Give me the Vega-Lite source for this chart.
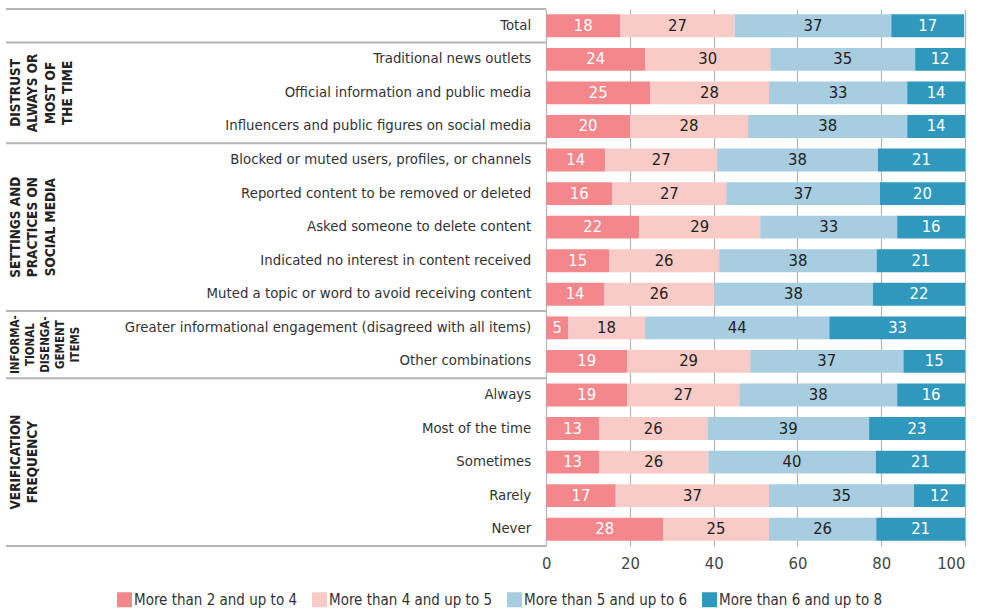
{
  "$schema": "https://vega.github.io/schema/vega-lite/v6.json",
  "width": 959,
  "height": 537,
  "autosize": {"type": "none"},
  "padding": {"left": 6, "top": 9, "right": 18, "bottom": 64},
  "background": "white",
  "config": {
    "view": {"stroke": null},
    "font": "DejaVu Sans Condensed",
    "text": {"font": "DejaVu Sans Condensed"}
  },
  "datasets": {
    "bars": [
      {"label": "Total", "cat": "More than 2 and up to 4", "value": 17.7},
      {"label": "Total", "cat": "More than 4 and up to 5", "value": 27.3},
      {"label": "Total", "cat": "More than 5 and up to 6", "value": 37.4},
      {"label": "Total", "cat": "More than 6 and up to 8", "value": 17.4},
      {"label": "Traditional news outlets", "cat": "More than 2 and up to 4", "value": 23.6},
      {"label": "Traditional news outlets", "cat": "More than 4 and up to 5", "value": 29.9},
      {"label": "Traditional news outlets", "cat": "More than 5 and up to 6", "value": 34.6},
      {"label": "Traditional news outlets", "cat": "More than 6 and up to 8", "value": 11.9},
      {"label": "Official information and public media", "cat": "More than 2 and up to 4", "value": 24.8},
      {"label": "Official information and public media", "cat": "More than 4 and up to 5", "value": 28.4},
      {"label": "Official information and public media", "cat": "More than 5 and up to 6", "value": 33.0},
      {"label": "Official information and public media", "cat": "More than 6 and up to 8", "value": 13.8},
      {"label": "Influencers and public figures on social media", "cat": "More than 2 and up to 4", "value": 20.0},
      {"label": "Influencers and public figures on social media", "cat": "More than 4 and up to 5", "value": 28.2},
      {"label": "Influencers and public figures on social media", "cat": "More than 5 and up to 6", "value": 38.0},
      {"label": "Influencers and public figures on social media", "cat": "More than 6 and up to 8", "value": 13.8},
      {"label": "Blocked or muted users, profiles, or channels", "cat": "More than 2 and up to 4", "value": 14.1},
      {"label": "Blocked or muted users, profiles, or channels", "cat": "More than 4 and up to 5", "value": 26.7},
      {"label": "Blocked or muted users, profiles, or channels", "cat": "More than 5 and up to 6", "value": 38.4},
      {"label": "Blocked or muted users, profiles, or channels", "cat": "More than 6 and up to 8", "value": 20.8},
      {"label": "Reported content to be removed or deleted", "cat": "More than 2 and up to 4", "value": 15.8},
      {"label": "Reported content to be removed or deleted", "cat": "More than 4 and up to 5", "value": 27.2},
      {"label": "Reported content to be removed or deleted", "cat": "More than 5 and up to 6", "value": 36.7},
      {"label": "Reported content to be removed or deleted", "cat": "More than 6 and up to 8", "value": 20.3},
      {"label": "Asked someone to delete content", "cat": "More than 2 and up to 4", "value": 22.2},
      {"label": "Asked someone to delete content", "cat": "More than 4 and up to 5", "value": 28.9},
      {"label": "Asked someone to delete content", "cat": "More than 5 and up to 6", "value": 32.7},
      {"label": "Asked someone to delete content", "cat": "More than 6 and up to 8", "value": 16.2},
      {"label": "Indicated no interest in content received", "cat": "More than 2 and up to 4", "value": 15.0},
      {"label": "Indicated no interest in content received", "cat": "More than 4 and up to 5", "value": 26.3},
      {"label": "Indicated no interest in content received", "cat": "More than 5 and up to 6", "value": 37.6},
      {"label": "Indicated no interest in content received", "cat": "More than 6 and up to 8", "value": 21.1},
      {"label": "Muted a topic or word to avoid receiving content", "cat": "More than 2 and up to 4", "value": 13.8},
      {"label": "Muted a topic or word to avoid receiving content", "cat": "More than 4 and up to 5", "value": 26.3},
      {"label": "Muted a topic or word to avoid receiving content", "cat": "More than 5 and up to 6", "value": 37.9},
      {"label": "Muted a topic or word to avoid receiving content", "cat": "More than 6 and up to 8", "value": 22.0},
      {"label": "Greater informational engagement (disagreed with all items)", "cat": "More than 2 and up to 4", "value": 5.2},
      {"label": "Greater informational engagement (disagreed with all items)", "cat": "More than 4 and up to 5", "value": 18.4},
      {"label": "Greater informational engagement (disagreed with all items)", "cat": "More than 5 and up to 6", "value": 44.0},
      {"label": "Greater informational engagement (disagreed with all items)", "cat": "More than 6 and up to 8", "value": 32.6},
      {"label": "Other combinations", "cat": "More than 2 and up to 4", "value": 19.3},
      {"label": "Other combinations", "cat": "More than 4 and up to 5", "value": 29.4},
      {"label": "Other combinations", "cat": "More than 5 and up to 6", "value": 36.6},
      {"label": "Other combinations", "cat": "More than 6 and up to 8", "value": 14.7},
      {"label": "Always", "cat": "More than 2 and up to 4", "value": 19.3},
      {"label": "Always", "cat": "More than 4 and up to 5", "value": 26.8},
      {"label": "Always", "cat": "More than 5 and up to 6", "value": 37.7},
      {"label": "Always", "cat": "More than 6 and up to 8", "value": 16.2},
      {"label": "Most of the time", "cat": "More than 2 and up to 4", "value": 12.6},
      {"label": "Most of the time", "cat": "More than 4 and up to 5", "value": 25.9},
      {"label": "Most of the time", "cat": "More than 5 and up to 6", "value": 38.6},
      {"label": "Most of the time", "cat": "More than 6 and up to 8", "value": 22.9},
      {"label": "Sometimes", "cat": "More than 2 and up to 4", "value": 12.6},
      {"label": "Sometimes", "cat": "More than 4 and up to 5", "value": 26.1},
      {"label": "Sometimes", "cat": "More than 5 and up to 6", "value": 40.0},
      {"label": "Sometimes", "cat": "More than 6 and up to 8", "value": 21.3},
      {"label": "Rarely", "cat": "More than 2 and up to 4", "value": 16.6},
      {"label": "Rarely", "cat": "More than 4 and up to 5", "value": 36.6},
      {"label": "Rarely", "cat": "More than 5 and up to 6", "value": 34.6},
      {"label": "Rarely", "cat": "More than 6 and up to 8", "value": 12.2},
      {"label": "Never", "cat": "More than 2 and up to 4", "value": 27.9},
      {"label": "Never", "cat": "More than 4 and up to 5", "value": 25.3},
      {"label": "Never", "cat": "More than 5 and up to 6", "value": 25.6},
      {"label": "Never", "cat": "More than 6 and up to 8", "value": 21.2}
    ],
    "groups": [
      {"label": "Official information and public media", "group": "DISTRUST|ALWAYS OR|MOST OF|THE TIME"},
      {"label": "Asked someone to delete content", "group": "SETTINGS AND|PRACTICES ON|SOCIAL MEDIA"},
      {"label": "Sometimes", "group": "VERIFICATION|FREQUENCY"}
    ],
    "groups2": [
      {"label": "Other combinations", "group": "INFORMA-|TIONAL|DISENGA-|GEMENT|ITEMS"}
    ],
    "seps": [
      {"label": "Total"},
      {"label": "Traditional news outlets"},
      {"label": "Blocked or muted users, profiles, or channels"},
      {"label": "Greater informational engagement (disagreed with all items)"},
      {"label": "Always"}
    ],
    "sepsEnd": [
      {"label": "Never"}
    ]
  },
  "encoding": {
    "y": {
      "field": "label",
      "type": "nominal",
      "axis": null,
      "scale": {
        "type": "band",
        "paddingInner": 0,
        "paddingOuter": 0,
        "domain": [
          "Total",
          "Traditional news outlets",
          "Official information and public media",
          "Influencers and public figures on social media",
          "Blocked or muted users, profiles, or channels",
          "Reported content to be removed or deleted",
          "Asked someone to delete content",
          "Indicated no interest in content received",
          "Muted a topic or word to avoid receiving content",
          "Greater informational engagement (disagreed with all items)",
          "Other combinations",
          "Always",
          "Most of the time",
          "Sometimes",
          "Rarely",
          "Never"
        ]
      }
    }
  },
  "layer": [
    {
      "data": {"name": "bars"},
      "mark": {"type": "bar", "height": {"band": 0.68}, "strokeWidth": 0},
      "encoding": {
        "x": {
          "field": "value",
          "type": "quantitative",
          "stack": "zero",
          "scale": {"domain": [-129, 100], "nice": false, "zero": false},
          "axis": {
            "values": [0, 20, 40, 60, 80, 100],
            "title": null,
            "grid": true,
            "gridColor": "#b4b4b4",
            "gridWidth": 1.2,
            "ticks": false,
            "domain": false,
            "labelFontSize": 16.5,
            "labelColor": "#444444",
            "labelFont": "DejaVu Sans Condensed",
            "labelPadding": 9
          }
        },
        "order": {"field": "cat", "sort": "ascending"},
        "color": {
          "field": "cat",
          "type": "nominal",
          "scale": {
            "domain": ["More than 2 and up to 4", "More than 4 and up to 5", "More than 5 and up to 6", "More than 6 and up to 8"],
            "range": ["#F4878B", "#F9CBC6", "#A9CDE0", "#2F98BC"]
          },
          "legend": {
            "orient": "none",
            "legendX": 111,
            "legendY": 583,
            "direction": "horizontal",
            "title": null,
            "symbolType": "square",
            "symbolSize": 225,
            "symbolStrokeWidth": 0,
            "symbolOpacity": 1,
            "labelFontSize": 15,
            "labelFont": "DejaVu Sans Condensed",
            "labelColor": "#333333",
            "labelOffset": 2,
            "columnPadding": 14,
            "labelLimit": 300
          }
        }
      }
    },
    {
      "data": {"name": "bars"},
      "mark": {"type": "text", "fontSize": 16.5, "baseline": "middle", "align": "center"},
      "encoding": {
        "x": {"field": "value", "type": "quantitative", "stack": "zero", "bandPosition": 0.5},
        "detail": {"field": "cat"},
        "order": {"field": "cat", "sort": "ascending"},
        "text": {"field": "value", "type": "quantitative", "format": ".0f"},
        "color": {
          "condition": {"test": "datum.cat === 'More than 2 and up to 4' || datum.cat === 'More than 6 and up to 8'", "value": "#ffffff"},
          "value": "#222222"
        }
      }
    },
    {
      "data": {"name": "bars"},
      "transform": [{"aggregate": [{"op": "count", "as": "n"}], "groupby": ["label"]}],
      "mark": {"type": "text", "fontSize": 14.8, "align": "right", "baseline": "middle", "color": "#333333"},
      "encoding": {
        "x": {"datum": -3.6, "type": "quantitative"},
        "text": {"field": "label", "type": "nominal"}
      }
    },
    {
      "data": {"name": "seps"},
      "mark": {"type": "rule", "color": "#b4b4b4", "strokeWidth": 2},
      "encoding": {
        "y": {"field": "label", "type": "nominal", "bandPosition": 0},
        "x": {"datum": -129, "type": "quantitative"},
        "x2": {"datum": 0}
      }
    },
    {
      "data": {"name": "sepsEnd"},
      "mark": {"type": "rule", "color": "#b4b4b4", "strokeWidth": 2},
      "encoding": {
        "y": {"field": "label", "type": "nominal", "bandPosition": 1},
        "x": {"datum": -129, "type": "quantitative"},
        "x2": {"datum": 0}
      }
    },
    {
      "data": {"name": "groups"},
      "mark": {"type": "text", "angle": 270, "align": "center", "baseline": "top", "fontSize": 13.5, "fontWeight": "bold", "lineHeight": 17.5, "lineBreak": "|", "color": "#222222"},
      "encoding": {
        "x": {"datum": -128.4, "type": "quantitative"},
        "text": {"field": "group", "type": "nominal"}
      }
    },
    {
      "data": {"name": "groups2"},
      "mark": {"type": "text", "angle": 270, "align": "center", "baseline": "top", "fontSize": 11.5, "fontWeight": "bold", "lineHeight": 15, "lineBreak": "|", "color": "#222222"},
      "encoding": {
        "y": {"field": "label", "type": "nominal", "bandPosition": 0},
        "x": {"datum": -128.0, "type": "quantitative"},
        "text": {"field": "group", "type": "nominal"}
      }
    }
  ]
}
